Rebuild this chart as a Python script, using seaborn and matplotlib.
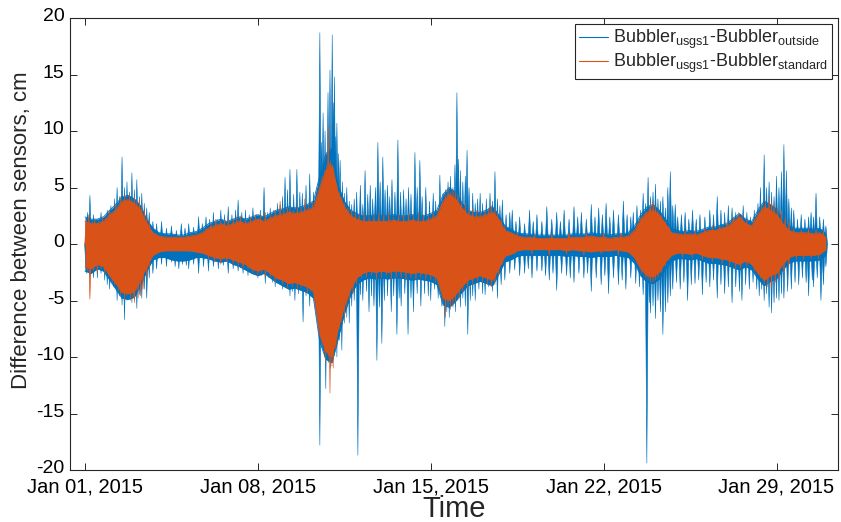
import numpy as np
import pandas as pd
import matplotlib
matplotlib.use("Agg")
import matplotlib.pyplot as plt
import matplotlib.dates as mdates
import matplotlib.transforms as mtransforms
from matplotlib.lines import Line2D
from matplotlib.collections import PolyCollection
import seaborn as sns

# ---- data -----------------------------------------------------------------
# Dense band of each difference series, sampled every 6 hours from 2015-01-01.
start = pd.Timestamp("2015-01-01")
step_days = 0.25

# Bubbler_usgs1 - Bubbler_outside : upper / lower edge of the dense band (cm)
outside_hi = [
    2.4, 2.2, 2.2, 2.4,   3.0, 3.5, 4.2, 4.3,   4.0, 3.4, 2.2, 1.4,
    1.0, 0.9, 0.9, 0.8,   0.8, 1.0, 1.1, 1.4,   1.8, 2.0, 2.2, 2.0,
    2.2, 2.4, 2.2, 2.4,   2.6, 2.4, 2.7, 3.0,   3.1, 3.3, 3.2, 3.3,
    3.5, 3.8, 6.0, 8.0,   8.5, 5.2, 3.8, 3.0,   2.7, 2.5, 2.5, 2.6,
    2.5, 2.5, 2.6, 2.5,   2.5, 2.6, 2.5, 2.5,   2.7, 3.0, 4.4, 5.0,
    4.6, 3.7, 3.0, 2.8,   2.8, 3.0, 3.3, 2.6,   1.6, 1.3, 1.0, 0.9,
    0.9, 0.8, 0.8, 0.8,   0.8, 0.8, 0.8, 0.9,   0.9, 0.9, 1.0, 0.9,
    0.9, 0.8, 0.9, 0.9,   1.0, 1.6, 2.6, 3.3,   3.5, 3.0, 2.2, 1.4,
    1.2, 1.1, 1.2, 1.1,   1.3, 1.5, 1.5, 1.7,   1.8, 2.3, 2.7, 2.2,
    2.0, 3.0, 3.8, 3.5,   3.1, 2.2, 1.6, 1.4,   1.4, 1.4, 1.3, 1.4,
    0.9,
]
outside_lo = [
    -2.4, -2.6, -2.2, -2.4,   -3.2, -4.0, -4.8, -4.9,   -4.7, -3.7, -2.4, -1.4,
    -1.2, -1.2, -1.4, -1.5,   -1.5, -1.4, -1.2, -1.2,   -1.3, -1.5, -1.6, -1.5,
    -1.8, -2.0, -2.3, -2.6,   -2.8, -2.6, -3.0, -3.4,   -3.7, -4.0, -3.9, -4.1,
    -4.3, -4.8, -8.6, -10.2,  -10.5, -8.4, -6.2, -4.6,  -3.6, -3.2, -3.0, -3.1,
    -3.0, -3.1, -3.0, -3.0,   -3.1, -3.2, -3.1, -3.2,   -3.3, -3.6, -5.4, -5.6,
    -5.1, -4.3, -3.7, -3.5,   -3.3, -3.5, -3.7, -2.7,   -1.6, -1.4, -1.1, -1.0,
    -1.0, -1.0, -1.0, -1.0,   -1.0, -1.0, -1.1, -1.0,   -1.1, -1.1, -1.2, -1.1,
    -1.1, -1.1, -1.0, -1.1,   -1.2, -1.7, -2.8, -3.4,   -3.5, -3.1, -2.2, -1.5,
    -1.3, -1.3, -1.4, -1.3,   -1.5, -1.7, -1.7, -1.8,   -1.9, -2.1, -2.3, -2.0,
    -2.3, -3.1, -3.7, -3.3,   -3.1, -2.3, -1.7, -1.5,   -1.5, -1.5, -1.5, -1.4,
    -1.0,
]

# Bubbler_usgs1 - Bubbler_standard : upper / lower edge of the dense band (cm)
standard_hi = [
    2.0, 1.8, 1.8, 2.0,   2.6, 3.0, 3.8, 3.9,   3.6, 3.0, 1.8, 1.0,
    0.7, 0.6, 0.6, 0.6,   0.6, 0.7, 0.8, 1.0,   1.4, 1.6, 1.8, 1.6,
    1.8, 2.0, 1.8, 2.0,   2.2, 2.0, 2.3, 2.5,   2.6, 2.8, 2.7, 2.8,
    3.0, 3.2, 5.0, 6.5,   7.0, 4.5, 3.3, 2.5,   2.2, 2.0, 2.0, 2.0,
    2.0, 2.0, 2.1, 2.0,   2.0, 2.1, 2.0, 2.0,   2.2, 2.5, 3.8, 4.4,
    4.0, 3.2, 2.6, 2.4,   2.4, 2.6, 2.8, 2.2,   1.2, 1.0, 0.7, 0.6,
    0.6, 0.5, 0.5, 0.5,   0.5, 0.5, 0.5, 0.6,   0.6, 0.6, 0.7, 0.6,
    0.6, 0.5, 0.6, 0.6,   0.7, 1.2, 2.2, 2.8,   3.0, 2.6, 1.8, 1.0,
    0.9, 0.8, 0.9, 0.8,   1.0, 1.2, 1.2, 1.4,   1.5, 2.0, 2.4, 1.8,
    1.6, 2.6, 3.3, 3.0,   2.6, 1.8, 1.2, 1.0,   1.0, 1.0, 0.9, 1.0,
    0.6,
]
standard_lo = [
    -2.0, -2.2, -1.8, -2.0,   -2.8, -3.5, -4.3, -4.4,   -4.2, -3.2, -2.0, -1.0,
    -0.7, -0.6, -0.6, -0.6,   -0.6, -0.6, -0.7, -0.8,   -1.0, -1.2, -1.3, -1.2,
    -1.4, -1.6, -1.8, -2.2,   -2.4, -2.2, -2.6, -3.0,   -3.2, -3.5, -3.4, -3.6,
    -3.8, -4.2, -8.0, -9.5,   -10.0, -7.5, -5.5, -4.0,  -3.0, -2.6, -2.4, -2.5,
    -2.4, -2.5, -2.4, -2.4,   -2.5, -2.6, -2.5, -2.6,   -2.7, -3.0, -4.8, -5.0,
    -4.5, -3.8, -3.2, -3.0,   -2.8, -3.0, -3.2, -2.2,   -1.1, -0.9, -0.6, -0.5,
    -0.5, -0.5, -0.5, -0.5,   -0.5, -0.5, -0.6, -0.5,   -0.6, -0.6, -0.7, -0.6,
    -0.6, -0.6, -0.5, -0.6,   -0.7, -1.2, -2.2, -2.8,   -2.9, -2.5, -1.6, -1.0,
    -0.8, -0.8, -0.9, -0.8,   -1.0, -1.2, -1.2, -1.3,   -1.4, -1.6, -1.8, -1.5,
    -1.8, -2.6, -3.2, -2.8,   -2.6, -1.8, -1.2, -1.0,   -1.0, -1.0, -1.0, -0.9,
    -0.5,
]

# Individual excursions beyond the band: days after 2015-01-01 and value (cm)
outside_up_day = [
    0.1, 0.2, 0.35, 0.5, 0.65, 0.8, 0.9, 1.05, 1.2, 1.3, 1.4, 1.5, 1.6, 1.7,
    1.8, 1.9, 2.0, 2.1, 2.2, 2.3, 2.4, 2.5, 2.6, 2.75, 2.9,
    3.1, 3.3, 3.5, 3.7, 3.9, 4.05, 4.2, 4.4, 4.6, 4.75, 4.9,
    5.05, 5.2, 5.35, 5.5, 5.65, 5.8, 5.95, 6.1, 6.2, 6.35, 6.5, 6.65, 6.8, 6.95,
    7.1, 7.25, 7.4, 7.5, 7.65, 7.8, 7.9, 8.0, 8.1, 8.2, 8.3, 8.45, 8.58, 8.7,
    8.8, 8.95, 9.1, 9.25, 9.4,
    9.51, 9.58, 9.64, 9.72, 9.84, 9.92, 10.01, 10.06, 10.1, 10.15, 10.2, 10.27,
    10.33, 10.42, 10.5, 10.6, 10.7, 10.8, 10.9,
    11.0, 11.15, 11.25, 11.34, 11.45, 11.55, 11.65, 11.76, 11.86, 11.95, 12.06,
    12.15, 12.25, 12.34, 12.43, 12.55, 12.67, 12.78, 12.9, 13.0, 13.1, 13.2,
    13.36, 13.45, 13.56, 13.65, 13.8, 13.95, 14.1, 14.2, 14.37, 14.5,
    14.6, 14.7, 14.8, 14.9, 14.98, 15.06, 15.12, 15.2, 15.3, 15.4, 15.47, 15.55,
    15.7, 15.8, 15.9, 16.0, 16.1, 16.25, 16.4, 16.5, 16.6, 16.7, 16.8, 16.9,
    17.05, 17.2,
    17.3, 17.45, 17.6, 17.8, 18.0, 18.15, 18.3, 18.5, 18.7, 18.9, 19.1, 19.25,
    19.4, 19.6, 19.8, 19.95, 20.1, 20.3, 20.5, 20.65, 20.8, 20.95, 21.1, 21.25,
    21.4, 21.6, 21.8, 21.95, 22.1,
    22.2, 22.35, 22.5, 22.6, 22.7, 22.8, 22.9, 23.0, 23.1, 23.2, 23.3, 23.4,
    23.5, 23.6, 23.7, 23.8, 23.9, 24.0,
    24.15, 24.3, 24.45, 24.6, 24.75, 24.9, 25.1, 25.3, 25.45, 25.6, 25.75, 25.9,
    26.05, 26.2, 26.35, 26.5, 26.65, 26.8, 26.95, 27.1,
    27.25, 27.35, 27.5, 27.6, 27.7, 27.8, 27.9, 28.0, 28.1, 28.2, 28.3, 28.4,
    28.5, 28.6, 28.7,
    28.85, 29.0, 29.15, 29.3, 29.4, 29.5, 29.6, 29.75, 29.9, 30.0,
]
outside_up_cm = [
    2.8, 4.3, 2.6, 2.2, 2.8, 2.4, 3.0, 3.4, 4.0, 5.0, 4.2, 7.7, 5.0, 5.5,
    4.6, 6.3, 4.8, 5.7, 4.2, 4.5, 3.6, 3.2, 2.8, 2.0, 1.8,
    2.0, 1.4, 1.6, 1.2, 1.8, 1.4, 1.8, 1.5, 2.4, 1.8, 2.4,
    2.2, 2.8, 2.2, 3.0, 2.6, 3.3, 2.6, 3.0, 3.9, 2.8, 3.0, 2.6, 3.2, 2.6,
    3.0, 5.0, 2.8, 3.2, 3.0, 3.6, 3.5, 4.2, 5.9, 4.8, 6.6, 4.4, 6.6, 4.6,
    4.5, 5.2, 6.2, 4.6, 5.0,
    18.7, 9.0, 11.6, 10.0, 13.4, 15.4, 18.5, 12.5, 14.8, 9.5, 10.7, 8.0,
    7.4, 5.5, 4.5, 5.0, 3.8, 3.5, 4.0,
    4.6, 5.2, 3.5, 6.5, 4.4, 5.2, 4.0, 5.0, 9.0, 5.5, 7.7,
    4.8, 5.2, 4.2, 5.7, 4.6, 9.2, 4.6, 4.8, 4.0, 5.0, 4.4,
    8.1, 5.0, 7.4, 4.2, 5.0, 3.8, 4.5, 3.8, 6.1, 4.5,
    4.8, 5.5, 6.0, 5.0, 7.0, 13.4, 7.5, 6.5, 5.5, 6.0, 8.3, 5.0,
    4.5, 3.6, 4.0, 4.5, 3.6, 4.0, 4.5, 3.8, 6.4, 4.0, 3.4, 3.9,
    2.6, 2.8,
    3.0, 2.0, 2.4, 1.8, 3.0, 2.0, 2.6, 2.0, 3.3, 2.2, 2.8, 2.0,
    3.0, 2.2, 3.3, 2.4, 2.8, 2.2, 3.5, 2.4, 3.2, 2.6, 3.6, 2.4,
    3.0, 2.6, 3.8, 2.6, 2.4,
    2.8, 3.4, 3.0, 4.5, 3.6, 5.9, 4.2, 4.6, 5.3, 4.0, 3.8, 4.2,
    3.2, 5.0, 6.4, 3.4, 3.5, 2.4,
    2.6, 2.8, 2.2, 3.0, 2.2, 2.6, 2.4, 3.0, 2.6, 4.2, 3.0, 2.8,
    3.4, 3.2, 2.8, 2.6, 3.4, 2.8, 2.4, 3.0,
    3.6, 5.0, 7.9, 5.0, 5.5, 4.6, 4.2, 6.0, 5.0, 6.4, 8.8, 6.5,
    4.0, 3.2, 3.0,
    2.2, 2.6, 2.2, 2.4, 2.8, 2.4, 4.5, 2.4, 2.2, 1.6,
]
outside_down_day = [
    0.05, 0.2, 0.35, 0.5, 0.65, 0.8, 0.9, 1.0, 1.15, 1.3, 1.4, 1.5, 1.6, 1.7,
    1.8, 1.9, 2.0, 2.1, 2.2, 2.3, 2.4, 2.5, 2.6, 2.75, 2.9,
    3.1, 3.3, 3.5, 3.65, 3.8, 3.95, 4.1, 4.2, 4.4, 4.6, 4.8, 5.0,
    5.2, 5.4, 5.6, 5.8, 6.0, 6.2, 6.4, 6.6, 6.8,
    7.0, 7.15, 7.3, 7.45, 7.6, 7.7, 7.85, 8.0, 8.15, 8.3, 8.4, 8.5, 8.65, 8.83,
    8.95, 9.1, 9.25, 9.38,
    9.51, 9.6, 9.7, 9.75, 9.85, 9.95, 10.0, 10.1, 10.2, 10.3, 10.4, 10.5, 10.6,
    10.7, 10.8, 10.9,
    11.05, 11.15, 11.25, 11.4, 11.5, 11.6, 11.7, 11.82, 11.92, 12.02, 12.12,
    12.25, 12.4, 12.5, 12.63, 12.72, 12.8, 12.95, 13.08, 13.2, 13.3, 13.45,
    13.6, 13.75, 13.9, 14.0, 14.15, 14.3, 14.45,
    14.57, 14.65, 14.75, 14.85, 14.9, 15.0, 15.1, 15.2, 15.3, 15.4, 15.5, 15.6,
    15.7, 15.8, 15.95, 16.1, 16.2, 16.35, 16.5, 16.7, 16.85, 17.0,
    17.2, 17.4, 17.6, 17.8, 17.95, 18.1, 18.3, 18.5, 18.65, 18.8, 18.95, 19.1,
    19.3, 19.5, 19.65, 19.8, 20.0, 20.2, 20.35, 20.5, 20.7, 20.9, 21.05, 21.2,
    21.4, 21.6, 21.75, 21.9, 22.1, 22.3,
    22.45, 22.6, 22.75, 22.85, 22.9, 23.0, 23.1, 23.2, 23.3, 23.4, 23.5, 23.6,
    23.7, 23.8, 23.95,
    24.1, 24.25, 24.4, 24.55, 24.7, 24.85, 25.0, 25.15, 25.3, 25.45, 25.6,
    25.75, 25.9, 26.05, 26.2, 26.35, 26.5, 26.6, 26.75, 26.9, 27.05, 27.2,
    27.3, 27.4, 27.5, 27.6, 27.7, 27.8, 27.9, 28.0, 28.1, 28.2, 28.3, 28.45,
    28.6, 28.75,
    28.9, 29.05, 29.2, 29.3, 29.45, 29.5, 29.65, 29.8, 29.9, 30.0,
]
outside_down_cm = [
    -2.6, -2.8, -3.0, -3.0, -2.6, -3.2, -3.6, -4.0, -3.8, -5.0, -4.6, -5.4, -6.7, -5.0,
    -4.8, -5.2, -5.0, -5.7, -4.5, -4.8, -4.0, -4.8, -3.0, -2.6, -2.2,
    -1.8, -2.0, -1.6, -2.0, -2.2, -1.8, -1.9, -2.2, -1.8, -2.6, -2.0, -2.4,
    -2.0, -2.2, -1.9, -2.6, -2.2, -2.4, -2.6, -2.8, -2.6,
    -3.0, -2.8, -3.5, -3.0, -3.4, -3.8, -3.2, -4.0, -3.8, -4.6, -4.2, -5.0, -4.4, -6.9,
    -4.6, -5.5, -4.8, -5.5,
    -17.8, -8.5, -10.0, -12.8, -10.5, -11.0, -10.5, -9.5, -10.0, -8.5, -9.4, -7.0, -6.5,
    -7.0, -5.5, -5.0,
    -18.7, -4.5, -5.0, -4.2, -6.0, -4.6, -5.5, -10.3, -5.6, -8.8, -5.0,
    -4.6, -6.0, -4.6, -8.0, -4.8, -5.5, -4.4, -8.0, -4.8, -6.0, -4.4,
    -5.5, -4.4, -4.6, -5.0, -4.0, -4.8, -5.5,
    -7.3, -6.0, -6.5, -5.5, -5.6, -6.0, -5.0, -5.6, -4.8, -5.5, -8.0, -5.0,
    -4.6, -5.0, -4.0, -4.4, -4.5, -3.8, -4.2, -4.8, -3.6, -3.2,
    -2.6, -2.3, -2.8, -2.6, -2.2, -3.0, -2.4, -2.4, -2.8, -3.2, -2.6, -4.1,
    -2.6, -2.8, -3.0, -3.4, -2.6, -3.0, -2.6, -4.2, -3.0, -3.6, -2.8, -4.4,
    -3.0, -3.6, -3.2, -4.0, -3.0, -3.5,
    -3.8, -4.5, -19.4, -5.2, -6.1, -5.5, -6.6, -5.0, -6.0, -8.0, -6.0, -5.2,
    -4.6, -4.0, -3.4,
    -4.0, -3.4, -5.0, -3.6, -3.5, -3.2, -4.5, -3.4, -3.8, -3.2, -4.8,
    -3.6, -4.4, -3.8, -5.2, -3.8, -4.2, -5.0, -3.6, -4.0, -3.4, -4.0,
    -4.6, -4.0, -5.0, -4.4, -5.6, -6.1, -5.2, -4.8, -5.0, -4.4, -4.8, -4.2,
    -4.0, -3.4,
    -3.6, -3.0, -3.4, -4.6, -3.2, -3.8, -3.0, -5.0, -3.6, -2.0,
]

standard_up_day = [
    0.05, 0.15, 0.3, 0.4, 0.55, 0.7, 0.85, 1.0, 1.1, 1.25, 1.35, 1.45, 1.55,
    1.6, 1.7, 1.8, 1.9, 2.0, 2.1, 2.2, 2.3, 2.4, 2.5, 2.6,
    4.9, 5.1, 5.3, 5.5, 5.65, 5.8, 6.0, 6.15, 6.3, 6.5, 6.7, 6.9, 7.1, 7.3,
    7.5, 7.7, 7.9, 8.05, 8.2, 8.3, 8.45, 8.6, 8.75, 8.9, 9.05, 9.2, 9.35,
    9.5, 9.6, 9.7, 9.78, 9.85, 9.9, 9.95, 10.05, 10.1, 10.2, 10.3, 10.4, 10.5,
    10.65, 10.8, 10.95,
    11.1, 11.3, 11.5, 11.7, 11.9, 12.1, 12.3, 12.5, 12.7, 12.9, 13.1, 13.3,
    13.5, 13.7, 13.9, 14.1, 14.3, 14.45, 14.6, 14.7, 14.8, 14.9, 15.0, 15.1,
    15.25, 15.4, 15.55, 15.7, 15.85, 16.0, 16.2, 16.35, 16.45, 16.6, 16.7,
    16.85, 17.0,
    17.5, 18.2, 18.9, 19.6, 20.3, 21.0, 21.7,
    22.4, 22.55, 22.7, 22.85, 22.9, 23.0, 23.1, 23.2, 23.35, 23.5, 23.65,
    24.3, 24.7, 25.1, 25.4, 25.7, 26.0, 26.25, 26.45, 26.6, 26.8, 27.1, 27.3,
    27.4, 27.55, 27.7, 27.8, 27.9, 28.05, 28.2, 28.35, 28.5, 28.7, 29.0, 29.3,
    29.6, 29.9,
]
standard_up_cm = [
    2.2, 2.6, 2.0, 2.2, 2.0, 2.4, 2.3, 3.0, 2.8, 3.6, 3.4, 4.2, 3.8,
    4.4, 4.0, 4.5, 4.0, 4.2, 3.8, 4.0, 3.4, 3.0, 2.4, 2.0,
    1.4, 1.8, 2.2, 2.0, 2.2, 2.2, 2.2, 2.4, 2.5, 2.2, 2.4, 2.6, 2.6, 2.8,
    2.6, 3.0, 3.8, 3.0, 3.2, 3.2, 3.0, 3.4, 3.2, 4.0, 3.4, 3.8, 3.6,
    4.5, 6.0, 6.5, 7.0, 10.5, 7.2, 7.4, 6.8, 6.0, 5.2, 4.6, 4.2, 3.6,
    3.2, 3.0, 2.8,
    2.6, 2.8, 2.4, 2.6, 2.8, 2.6, 2.8, 2.4, 2.6, 2.6, 2.8, 2.6,
    2.8, 2.6, 2.6, 2.8, 3.0, 3.6, 4.4, 5.0, 4.6, 4.8, 4.6, 4.4,
    3.8, 3.6, 3.2, 3.2, 3.0, 2.8, 3.0, 3.2, 3.4, 3.2, 2.8,
    2.2, 1.6,
    1.0, 0.9, 0.9, 1.0, 1.0, 1.0, 1.0,
    1.8, 2.4, 2.8, 3.2, 3.6, 3.8, 3.4, 3.0, 2.6, 2.0, 1.6,
    1.2, 1.2, 1.4, 1.6, 1.6, 2.0, 2.4, 2.8, 2.6, 2.2, 2.2, 2.8,
    3.4, 3.8, 4.2, 3.8, 3.6, 3.2, 3.0, 2.4, 2.0, 1.4, 1.3, 1.4,
    1.3, 1.2,
]
standard_down_day = [
    0.1, 0.2, 0.35, 0.5, 0.65, 0.8, 0.95, 1.1, 1.2, 1.35, 1.45, 1.6, 1.7,
    1.85, 1.95, 2.0, 2.15, 2.25, 2.35, 2.5, 2.6,
    5.0, 5.25, 5.5, 5.75, 6.0, 6.2, 6.4, 6.6, 6.8, 7.0, 7.15, 7.3, 7.5, 7.7,
    7.85, 8.0, 8.2, 8.4, 8.6, 8.75, 9.0, 9.15, 9.3,
    9.5, 9.6, 9.7, 9.75, 9.85, 9.92, 10.0, 10.05, 10.15, 10.2, 10.3, 10.4,
    10.5, 10.6, 10.7, 10.85, 11.0,
    11.2, 11.4, 11.6, 11.8, 12.0, 12.2, 12.4, 12.6, 12.8, 13.0, 13.2, 13.4,
    13.6, 13.8, 14.0, 14.2, 14.4, 14.5, 14.6, 14.7, 14.8, 14.9, 15.0, 15.15,
    15.3, 15.5, 15.7, 15.9, 16.1, 16.3, 16.45, 16.6, 16.75, 16.9,
    17.4, 18.1, 18.8, 19.5, 20.2, 20.9, 21.6,
    22.4, 22.55, 22.7, 22.8, 22.9, 23.0, 23.1, 23.2, 23.35, 23.5, 23.65,
    24.2, 24.6, 25.0, 25.4, 25.8, 26.1, 26.35, 26.55, 26.8, 27.1, 27.35, 27.5,
    27.65, 27.8, 27.95, 28.1, 28.3, 28.5, 28.8, 29.1, 29.4, 29.7,
]
standard_down_cm = [
    -2.4, -4.9, -2.4, -2.6, -2.2, -2.6, -2.8, -3.4, -3.6, -4.2, -4.6, -5.0, -4.6,
    -5.0, -4.8, -5.2, -4.8, -4.6, -4.0, -3.0, -2.2,
    -1.4, -1.6, -1.8, -1.6, -1.8, -2.0, -2.2, -2.2, -2.6, -2.8, -2.6, -3.0, -3.0, -3.4,
    -3.2, -3.6, -3.9, -3.8, -4.0, -3.9, -4.4, -4.2, -4.8,
    -6.0, -9.0, -9.6, -10.5, -10.0, -13.2, -10.8, -11.0, -9.4, -9.0, -7.5, -7.0,
    -6.5, -5.6, -5.0, -4.4, -3.6,
    -3.0, -3.0, -2.8, -3.2, -3.0, -2.8, -3.2, -3.0, -3.0, -3.2, -3.0, -3.2,
    -3.0, -3.2, -3.2, -3.4, -4.0, -5.0, -6.5, -5.6, -5.8, -5.4, -5.2, -4.8,
    -4.2, -4.0, -3.6, -3.4, -3.4, -3.6, -3.8, -3.6, -2.8, -1.8,
    -0.9, -0.9, -1.0, -0.9, -1.0, -0.9, -1.0,
    -1.8, -2.6, -3.0, -3.2, -3.4, -3.4, -3.2, -3.0, -2.6, -2.0, -1.4,
    -1.2, -1.2, -1.4, -1.6, -1.8, -2.0, -2.2, -2.2, -2.0, -2.4, -3.0, -3.6,
    -3.8, -4.0, -3.4, -3.2, -2.6, -2.0, -1.4, -1.4, -1.3, -1.3,
]

labels = [
    r"Bubbler$_{\mathrm{usgs1}}$-Bubbler$_{\mathrm{outside}}$",
    r"Bubbler$_{\mathrm{usgs1}}$-Bubbler$_{\mathrm{standard}}$",
]
colors = ["#0072BD", "#D95319"]
tick_days = [0, 7, 14, 21, 28]

# ---- figure ---------------------------------------------------------------
sns.set_theme(style="white")
plt.rcParams["font.family"] = ["Liberation Sans", "DejaVu Sans"]
plt.rcParams["mathtext.fontset"] = "custom"
plt.rcParams["mathtext.rm"] = "Liberation Sans"
plt.rcParams["mathtext.it"] = "Liberation Sans:italic"
plt.rcParams["mathtext.bf"] = "Liberation Sans:bold"
plt.rcParams["axes.unicode_minus"] = False

fig = plt.figure(figsize=(8.41, 5.22), dpi=100)
ax = fig.add_axes([70 / 841, 52 / 522, 768 / 841, 452 / 522])

n = len(outside_hi)
band = pd.DataFrame({
    "time": start + pd.to_timedelta(np.arange(n) * step_days, unit="D"),
    "outside_hi": outside_hi, "outside_lo": outside_lo,
    "standard_hi": standard_hi, "standard_lo": standard_lo,
})


def spikes(days, values, half_width):
    """Narrow triangles from the zero line to each excursion, in axis data units."""
    t = mdates.date2num(start + pd.to_timedelta(days, unit="D"))
    return [[(ti - half_width, 0.0), (ti, v), (ti + half_width, 0.0)]
            for ti, v in zip(t, values)]


series = [
    ("outside", colors[0], outside_up_day + outside_down_day,
     outside_up_cm + outside_down_cm, 0.065),
    ("standard", colors[1], standard_up_day + standard_down_day,
     standard_up_cm + standard_down_cm, 0.06),
]
for key, col, sd, sv, hw in series:
    ax.fill_between(band["time"], band[f"{key}_lo"], band[f"{key}_hi"],
                    color=col, lw=0, zorder=2)
    sns.lineplot(data=band, x="time", y=f"{key}_hi", color=col, lw=0.6, ax=ax, zorder=2)
    sns.lineplot(data=band, x="time", y=f"{key}_lo", color=col, lw=0.6, ax=ax, zorder=2)
    ax.add_collection(PolyCollection(spikes(sd, sv, hw), facecolors=col,
                                     edgecolors=col, linewidths=0.4, zorder=2))

ax.set_xlim(start - pd.Timedelta(days=0.607), start + pd.Timedelta(days=30.49))
ax.set_ylim(-20, 20)
ax.set_yticks(np.arange(-20, 21, 5))
ax.set_xticks([start + pd.Timedelta(days=d) for d in tick_days])
ax.xaxis.set_major_formatter(mdates.DateFormatter("%b %d, %Y"))

edge = "#262626"
for s in ax.spines.values():
    s.set_visible(True)
    s.set_color(edge)
    s.set_linewidth(0.8)
ax.tick_params(direction="in", length=5, width=0.7, color=edge, labelcolor="black",
               top=True, right=True, bottom=True, left=True)
ax.tick_params(axis="x", pad=5.5, labelsize=14.5)
ax.tick_params(axis="y", pad=4, labelsize=14)
# nudge the value labels up slightly so they sit clear of the date labels
lift = mtransforms.ScaledTranslation(0, 2.5 / 72, fig.dpi_scale_trans)
for lab in ax.get_yticklabels():
    lab.set_transform(lab.get_transform() + lift)
ax.set_xlabel("Time", fontsize=21, labelpad=-1.5)
ax.set_ylabel("Difference between sensors, cm", fontsize=16)
ax.yaxis.set_label_coords(-0.05, 0.53)

handles = [Line2D([], [], color=c, lw=0.8) for c in colors]
leg = ax.legend(handles, labels, loc="upper right", fontsize=13, frameon=True,
                fancybox=False, edgecolor=edge, framealpha=1, borderpad=0.2,
                handlelength=1.6, handletextpad=0.3, labelspacing=0.05,
                borderaxespad=0.35)
leg.get_frame().set_linewidth(0.8)

fig.savefig("out.png", dpi=100)
